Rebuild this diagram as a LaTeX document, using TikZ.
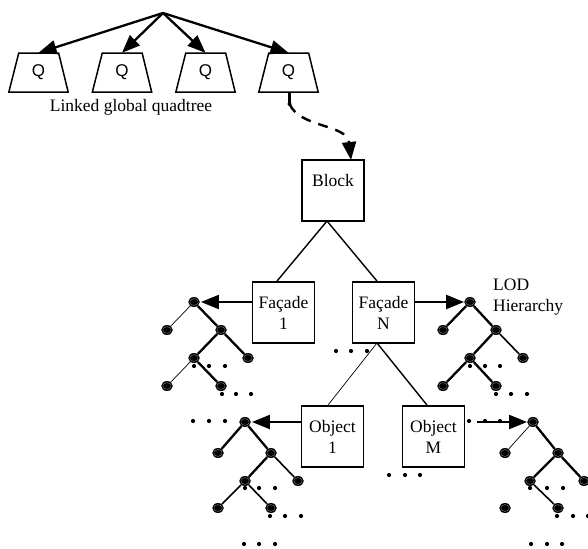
\documentclass[tikz,border=0pt]{standalone}
\usepackage{fontspec}
\setmainfont{Liberation Serif}
\newfontfamily\qfont{Liberation Sans}
\usetikzlibrary{arrows.meta,shapes.geometric}
\begin{document}
\begin{tikzpicture}[x=1pt,y=-1pt,
  font=\fontsize{17.5}{21}\selectfont,
  qbox/.style={minimum width=59pt, minimum height=39pt, inner sep=0pt, font=\qfont\fontsize{17}{20}\selectfont},
  qline/.style={line width=1.5pt, line join=miter},
  sbox/.style={draw, line width=1.8pt, minimum width=62pt, minimum height=61pt, inner sep=0pt, align=center},
  tn/.style={ellipse, fill=black, inner sep=0pt, minimum width=11.5pt, minimum height=10pt,
     path picture={\draw[gray!70,line width=0.3pt] (path picture bounding box.center) ellipse [x radius=4.2pt, y radius=3.4pt];}},
  ethin/.style={line width=0.7pt},
  emed/.style={line width=1.6pt},
  ethk/.style={line width=2.3pt},
  bigarrow/.style={-{Triangle[length=18pt,width=14pt]}, line width=2.3pt},
  dotp/.style={fill=black}
]
\useasboundingbox (0,0) rectangle (588,548);

% --- quadtree ---
\coordinate (apex) at (163,13);
\node[qbox] (q1) at (38.5,72.5) {\raisebox{-4pt}{Q}};
\node[qbox] (q2) at (122,72.5) {\raisebox{-4pt}{Q}};
\node[qbox] (q3) at (205.5,72.5) {\raisebox{-4pt}{Q}};
\node[qbox] (q4) at (288.5,72.5) {\raisebox{-4pt}{Q}};
\foreach \q in {q1,q2,q3,q4}
  \draw[qline] (\q.south west) -- (\q.south east) -- ++(-9.5,-39) -- ++(-40,0) -- cycle;
\foreach \q in {q1,q2,q3,q4} \draw[bigarrow] (apex) -- (\q.north);
\node (lgq) at (131,107) {Linked global quadtree};

% --- boxes ---
\node[sbox] (block) at (333,190.5) {Block\\\mbox{}};
\node[sbox] (f1) at (283.5,312.5) {Façade\\1};
\node[sbox] (fn) at (383.5,312.5) {Façade\\N};
\node[sbox] (o1) at (332.5,436.5) {Object\\1};
\node[sbox] (om) at (433.5,436.5) {Object\\M};

% dashed link
\coordinate (dk) at (289.5,104);
\draw[line width=2.4pt] (q4.south) ++(1,0) -- (dk);
\fill (dk) circle (2pt);
\draw[line width=2.4pt, dash pattern=on 10pt off 8pt, -{Triangle[length=18pt,width=14pt]}]
  (dk) .. controls (300,128) and (347,124) .. (351,160);

\coordinate (bb) at (327,221);
\coordinate (fb) at (377,343);
\draw[line width=1.4pt] (bb) -- (f1.north -| 277,0);
\draw[line width=1.4pt] (bb) -- (fn.north -| 377,0);
\draw[line width=0.7pt] (fb) -- (o1.north -| 328,0);
\draw[line width=1.4pt] (fb) -- (om.north -| 427,0);

% --- tree A (Facade 1) ---
\node[tn] (a0) at (194,302) {};
\node[tn] (a1) at (167,330) {};
\node[tn] (a2) at (221,330) {};
\node[tn] (a3) at (194,358) {};
\node[tn] (a4) at (248,358) {};
\node[tn] (a5) at (167,386) {};
\node[tn] (a6) at (221,386) {};
\draw[ethin] (a0) -- (a1);
\draw[ethk] (a0) -- (a2) (a2) -- (a3) (a2) -- (a4) (a3) -- (a6);
\draw[ethin] (a3) -- (a5);
\draw[bigarrow, shorten >=1pt] (f1.west |- a0) -- (a0);

% --- tree B (Facade N) ---
\node[tn] (b0) at (470,302) {};
\node[tn] (b1) at (443,330) {};
\node[tn] (b2) at (496,330) {};
\node[tn] (b3) at (470,358) {};
\node[tn] (b4) at (523,358) {};
\node[tn] (b5) at (443,386) {};
\node[tn] (b6) at (496,386) {};
\draw[ethk] (b0) -- (b1) (b0) -- (b2) (b2) -- (b3) (b3) -- (b5) (b3) -- (b6);
\draw[emed] (b2) -- (b4);
\draw[bigarrow, shorten >=0pt] (fn.east |- b0) -- (b0);
\node[anchor=west, align=left, inner sep=0pt] (lod) at (493,297) {LOD\\Hierarchy};

% --- tree C (Object 1) ---
\node[tn] (c0) at (245,422) {};
\node[tn] (c1) at (218,453) {};
\node[tn] (c2) at (271,453) {};
\node[tn] (c3) at (245,481) {};
\node[tn] (c4) at (298,481) {};
\node[tn] (c5) at (218,508) {};
\node[tn] (c6) at (271,508) {};
\draw[ethk] (c0) -- (c1) (c0) -- (c2) (c2) -- (c3);
\draw[emed] (c2) -- (c4) (c3) -- (c5) (c3) -- (c6);
\draw[bigarrow, shorten >=1pt] (o1.west |- c0) -- (c0);

% --- tree D (Object M) ---
\node[tn] (d0) at (533,422) {};
\node[tn] (d1) at (505,453) {};
\node[tn] (d2) at (558,453) {};
\node[tn] (d3) at (530,481) {};
\node[tn] (d4) at (584,481) {};
\node[tn] (d5) at (505,508) {};
\node[tn] (d6) at (558,508) {};
\draw[ethin] (d0) -- (d1);
\draw[ethk] (d0) -- (d2) (d2) -- (d3) (d2) -- (d4);
\draw[emed] (d3) -- (d6);
\coordinate (ds) at (477,422);
\draw[bigarrow, shorten >=0pt] (ds) -- (d0);

% --- ellipsis dots ---
\foreach \x/\y in {
  194/366, 209/366, 225/366, 222/394, 236/394, 251/394,
  470/366, 485/366, 500/366, 496/394, 511/394, 527/394,
  193/421, 209/421, 225/421, 245/488, 259/488, 275/488, 270/516, 285/516, 301/516, 244/544, 259/544, 275/544,
  469/421, 485/421, 500/421, 530/488, 547/488, 563/488, 557/516, 573/516, 588/516, 531/544, 547/544, 562/544,
  336/351, 351/351, 367/351, 389/475, 405/475, 420/475}
  \fill[dotp] (\x,\y) circle (2.1pt);
\end{tikzpicture}
\end{document}
